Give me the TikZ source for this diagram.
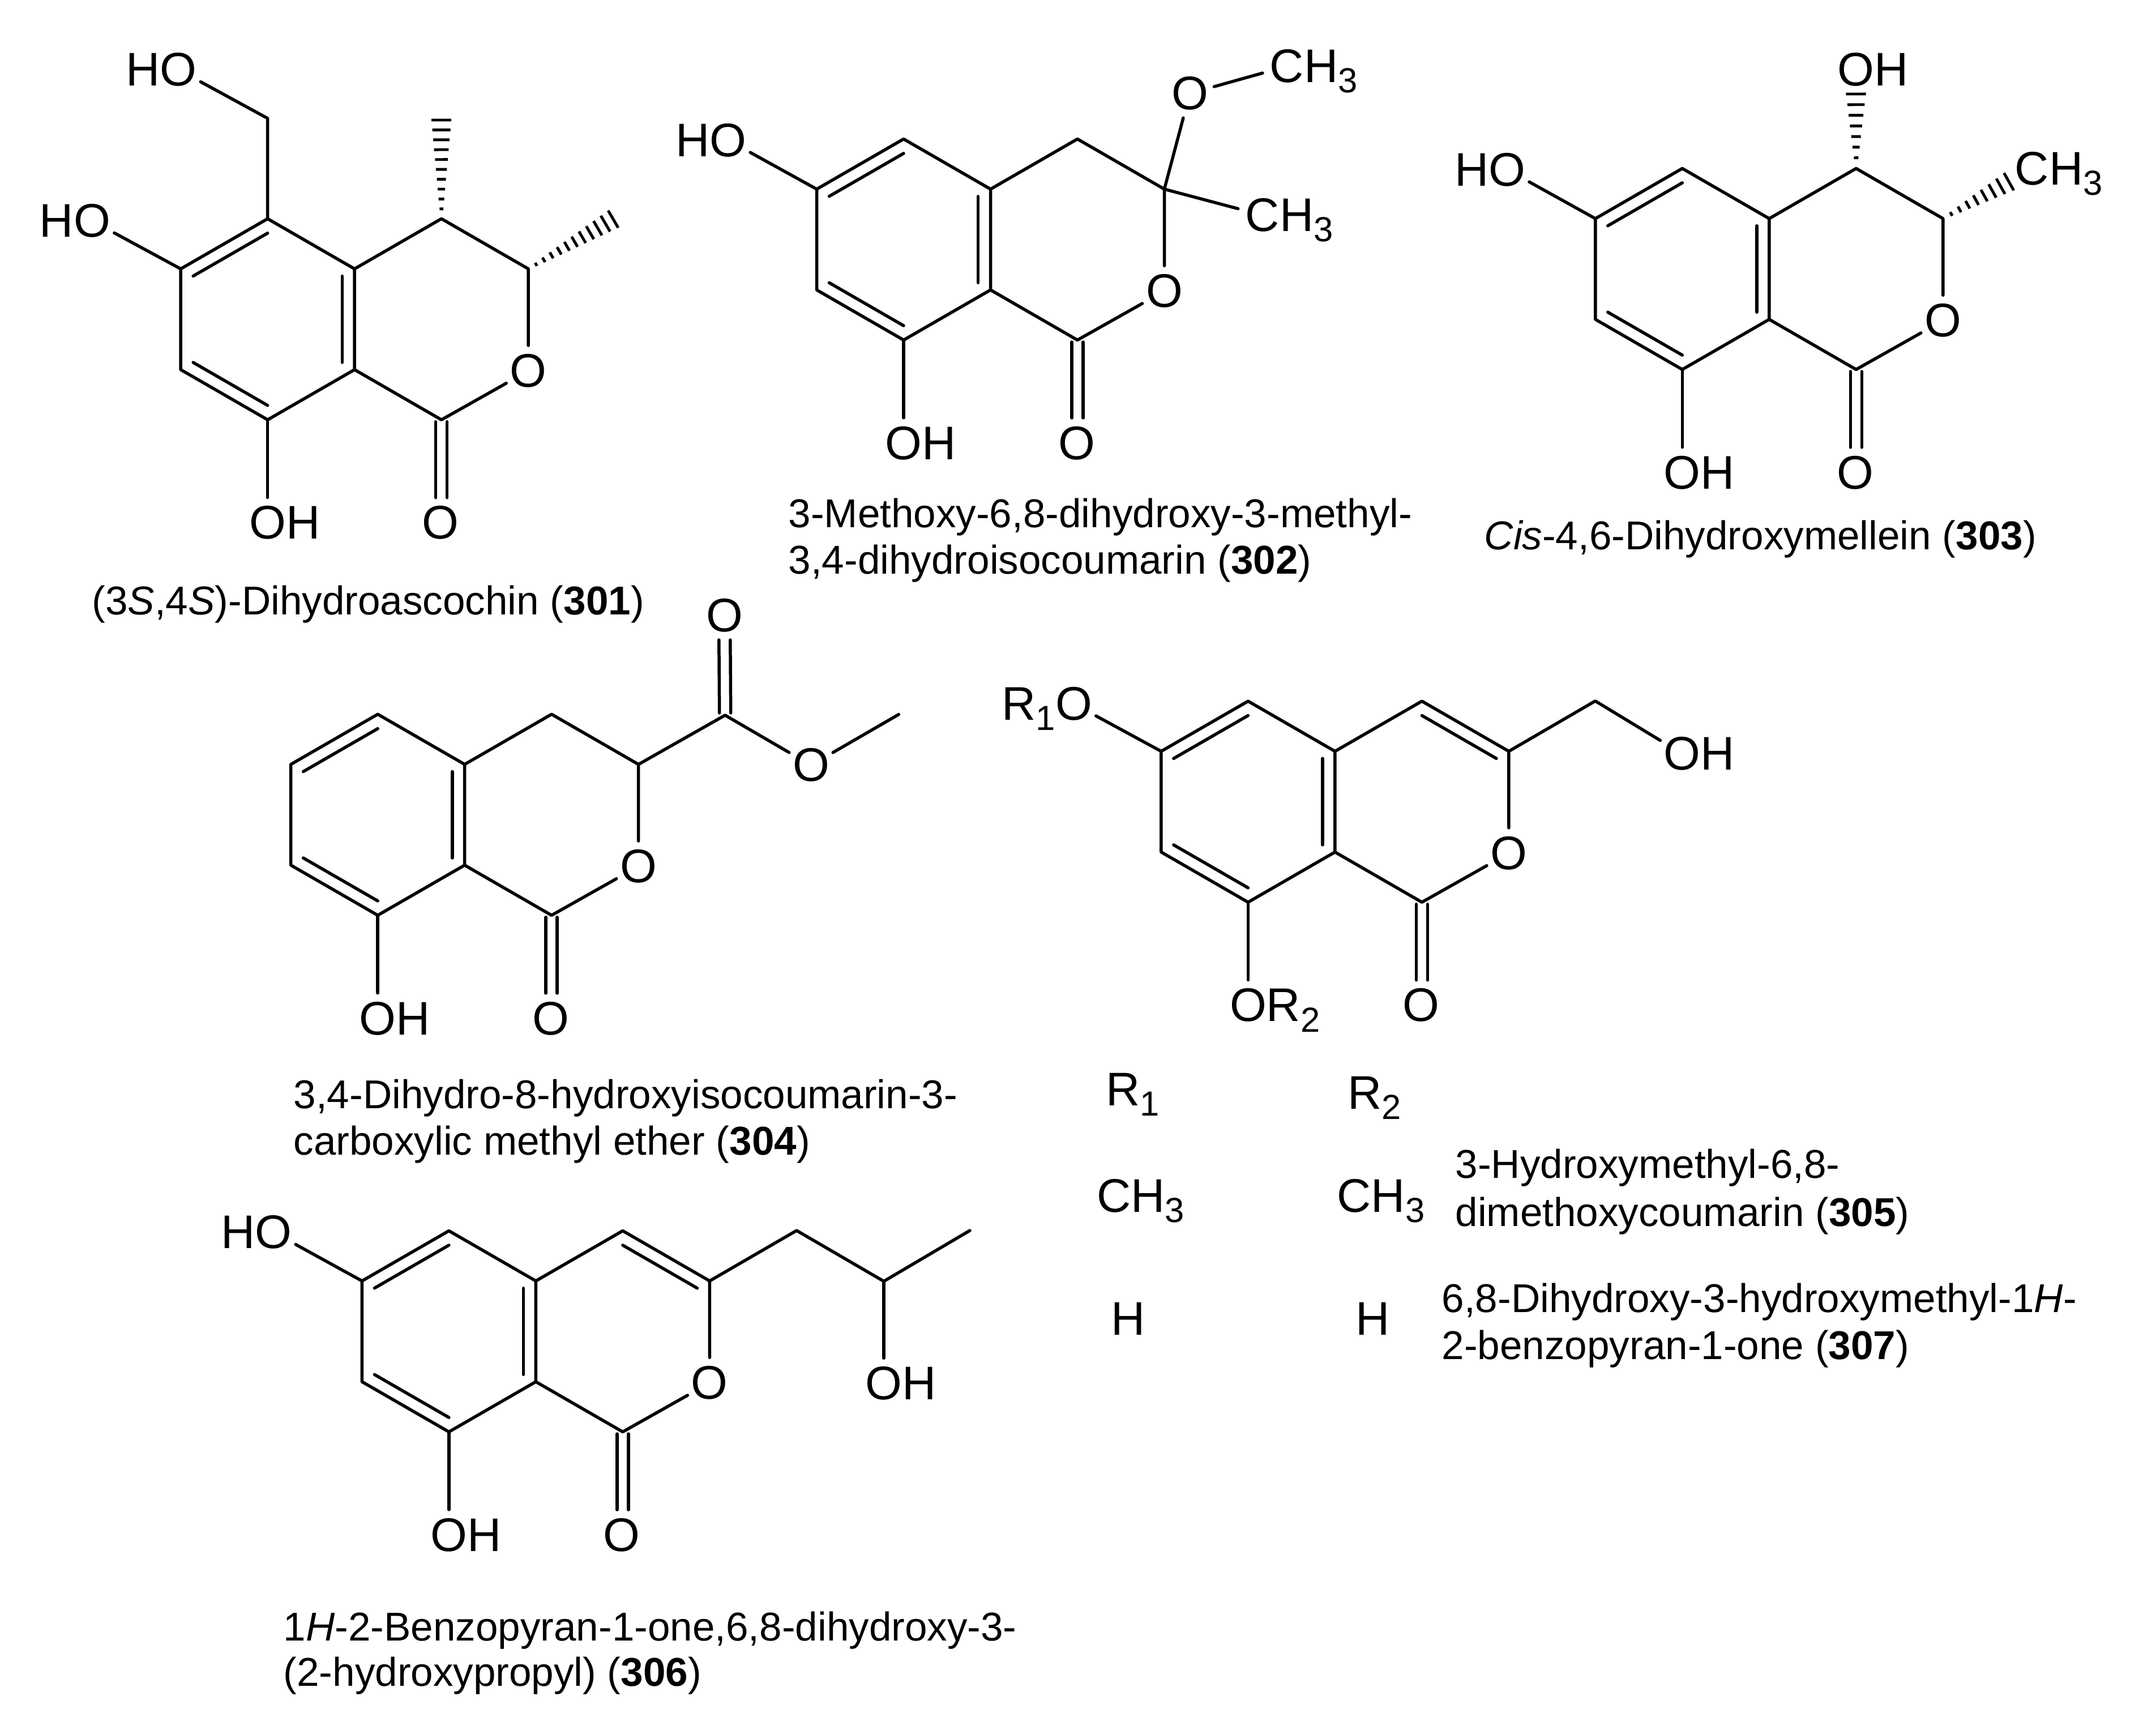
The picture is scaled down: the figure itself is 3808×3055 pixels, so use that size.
\documentclass[tikz,border=0pt]{standalone}
\usepackage{fontspec}
\setmainfont{Liberation Sans}
\usetikzlibrary{calc}
\newcommand{\chemsub}[1]{\smash{\raisebox{-5.2pt}{\fontsize{17.5}{17.5}\selectfont #1}}}
\tikzset{
  bond/.style={line width=1.56pt,line cap=round,line join=round,black},
  hashline/.style={line width=1.4pt,black},
  atom/.style={circle,inner sep=0pt,minimum size=0.88cm,font=\fontsize{23.7}{26}\selectfont},
  tabl/.style={inner sep=0pt,anchor=base west,font=\fontsize{23.7}{26}\selectfont},
  capt/.style={inner sep=0pt,anchor=base west,font=\fontsize{20.2}{24}\selectfont}
}
% hashed wedge from tip #1 to broad end #2 with #3 stripes
\newcommand{\hashb}[3]{%
  \foreach \hi in {1,...,#3}{%
    \pgfmathsetmacro{\hf}{\hi/#3}%
    \pgfmathsetmacro{\hw}{0.5+4.5*\hf}%
    \draw[hashline] ($(#1)!\hf!(#2)!\hw pt!90:(#1)$) -- ($(#1)!\hf!(#2)!\hw pt!-90:(#1)$);
  }%
}
% inner line of a double bond #1-#2 in the ring with centre #3
\newcommand{\inner}[3]{\draw[bond] ($(#1)!0.143!(#3)$) -- ($(#2)!0.143!(#3)$);}
% bicyclic core: prefix, benzene centre x, y, text of the C8 substituent
\newcommand{\isoc}[4]{%
  \begin{scope}[shift={(#2,#3)}]
    \coordinate (#1c) at (0,0);
    \coordinate (#1d) at (307,0);
    \coordinate (#15) at (0,-177.5);
    \coordinate (#16) at (-153.5,-89);
    \coordinate (#17) at (-153.5,89);
    \coordinate (#18) at (0,177.5);
    \coordinate (#18a) at (153.5,89);
    \coordinate (#14a) at (153.5,-89);
    \coordinate (#14) at (307,-177.5);
    \coordinate (#13) at (460.5,-89);
    \coordinate (#11) at (307,177.5);
    \node[atom] (#1o) at (460.5,91) {O};
    \node[atom] (#1k) at (305.5,359.5) {O};
    \node[atom] (#1h) at (0,359.5) {#4};
    \coordinate (#1ka) at (297,181);
    \coordinate (#1kb) at (317,181);
    \coordinate (#1kc) at (297,315);
    \coordinate (#1kd) at (317,315);
  \end{scope}
  \draw[bond] (#15) -- (#16) -- (#17) -- (#18) -- (#18a) -- (#14a) -- cycle;
  \draw[bond] (#14a) -- (#14) -- (#13) -- (#1o) -- (#11) -- (#18a);
  \inner{#15}{#16}{#1c}
  \inner{#17}{#18}{#1c}
  \inner{#18a}{#14a}{#1c}
  \draw[bond] (#18) -- (#1h);
  \draw[bond] (#1ka) -- (#1kc);
  \draw[bond] (#1kb) -- (#1kd);
}
\begin{document}
\begin{tikzpicture}[x=0.01cm,y=-0.01cm]
\useasboundingbox (0,0) rectangle (3808,3055);
\fill[white] (0,0) rectangle (3808,3055);

% ---------- 301
\isoc{a}{472.7}{563.8}{O\rlap{H}}
\coordinate (ach) at (472.7,209);
\coordinate (ame4) at (779.5,212);
\coordinate (ame3) at (1083,387);
\node[atom] (aho1) at (315,123) {\llap{H}O};
\node[atom] (aho2) at (162.5,390) {\llap{H}O};
\draw[bond] (a5) -- (ach) -- (aho1);
\draw[bond] (a6) -- (aho2);
\hashb{a4}{ame4}{10}
\hashb{a3}{ame3}{11}
\node[capt] (acap) at (162,1085) {(3\textit{S},4\textit{S})-Dihydroascochin (\textbf{301})};

% ---------- 302
\isoc{b}{1596}{423}{O\rlap{H}}
\node[atom] (bho) at (1286,247.6) {\llap{H}O};
\node[atom] (bome) at (2101.4,165) {O};
\node[atom] (bme1) at (2273,117) {C\rlap{H\chemsub{3}}};
\node[atom] (bme2) at (2230,380) {C\rlap{H\chemsub{3}}};
\draw[bond] (b6) -- (bho);
\draw[bond] (b3) -- (bome) -- (bme1);
\draw[bond] (b3) -- (bme2);
\node[capt] (bcap1) at (1392,931.6) {3-Methoxy-6,8-dihydroxy-3-methyl-};
\node[capt] (bcap2) at (1392,1013.7) {3,4-dihydroisocoumarin (\textbf{302})};

% ---------- 303
\isoc{c}{2971.3}{475}{O\rlap{H}}
\node[atom] (cho) at (2661.8,299.5) {\llap{H}O};
\node[atom] (coh) at (3278,122.8) {O\rlap{H}};
\node[atom] (cme) at (3589,298) {C\rlap{H\chemsub{3}}};
\coordinate (chash4) at (3278,166);
\coordinate (chash3) at ($(c3)!.74!(cme)$);
\draw[bond] (c6) -- (cho);
\hashb{c4}{chash4}{7}
\hashb{c3}{chash3}{8}
\node[capt] (ccap) at (2621,970) {\textit{Cis}-4,6-Dihydroxymellein (\textbf{303})};

% ---------- 304
\isoc{d}{667.2}{1438.8}{O\rlap{H}}
\coordinate (dco) at (1280.7,1263);
\coordinate (dme) at (1587.4,1261.6);
\node[atom] (dk2) at (1279.8,1087) {O};
\node[atom] (dest) at (1432.4,1351.3) {O};
\coordinate (dk2a) at ($(dk2)+(-10,43)$);
\coordinate (dk2b) at ($(dk2)+(10,43)$);
\coordinate (dco1) at ($(dco)+(-10,-4)$);
\coordinate (dco2) at ($(dco)+(10,-4)$);
\draw[bond] (d3) -- (dco) -- (dest) -- (dme);
\draw[bond] (dk2a) -- (dco1);
\draw[bond] (dk2b) -- (dco2);
\node[capt] (dcap1) at (518,1957) {3,4-Dihydro-8-hydroxyisocoumarin-3-};
\node[capt] (dcap2) at (518,2039.7) {carboxylic methyl ether (\textbf{304})};

% ---------- 305 / 307
\isoc{e}{2204.4}{1415.7}{O\rlap{R\chemsub{2}}}
\coordinate (ech) at (2817.6,1237.9);
\node[atom] (ero) at (1896.4,1242.8) {\llap{R\chemsub{1}}O};
\node[atom] (eoh) at (2970.6,1330.7) {O\rlap{H}};
\draw[bond] (e6) -- (ero);
\draw[bond] (e3) -- (ech) -- (eoh);
\inner{e4}{e3}{ed}
\node[tabl] (r1) at (1953,1952) {R\chemsub{1}};
\node[tabl] (r2) at (2379.5,1958.6) {R\chemsub{2}};
\node[tabl] (m1) at (1936.6,2140) {CH\chemsub{3}};
\node[tabl] (m2) at (2361,2140) {CH\chemsub{3}};
\node[tabl] (h1) at (1961.5,2357) {H};
\node[tabl] (h2) at (2394,2357) {H};
\node[capt] (ecap1) at (2570,2080) {3-Hydroxymethyl-6,8-};
\node[capt] (ecap2) at (2570,2165.5) {dimethoxycoumarin (\textbf{305})};
\node[capt] (fcap1) at (2546,2317) {6,8-Dihydroxy-3-hydroxymethyl-1\textit{H}-};
\node[capt] (fcap2) at (2546,2400) {2-benzopyran-1-one (\textbf{307})};

% ---------- 306
\isoc{g}{792.9}{2351}{O\rlap{H}}
\coordinate (gch) at (1407,2173);
\coordinate (gcoh) at (1561,2262.6);
\coordinate (gme) at (1713,2173);
\node[atom] (gho) at (483,2176) {\llap{H}O};
\node[atom] (goh) at (1561,2443) {O\rlap{H}};
\draw[bond] (g6) -- (gho);
\draw[bond] (g3) -- (gch) -- (gcoh) -- (gme);
\draw[bond] (gcoh) -- (goh);
\inner{g4}{g3}{gd}
\node[capt] (gcap1) at (500,2897.8) {1\textit{H}-2-Benzopyran-1-one,6,8-dihydroxy-3-};
\node[capt] (gcap2) at (500,2977) {(2-hydroxypropyl) (\textbf{306})};
\end{tikzpicture}
\end{document}
